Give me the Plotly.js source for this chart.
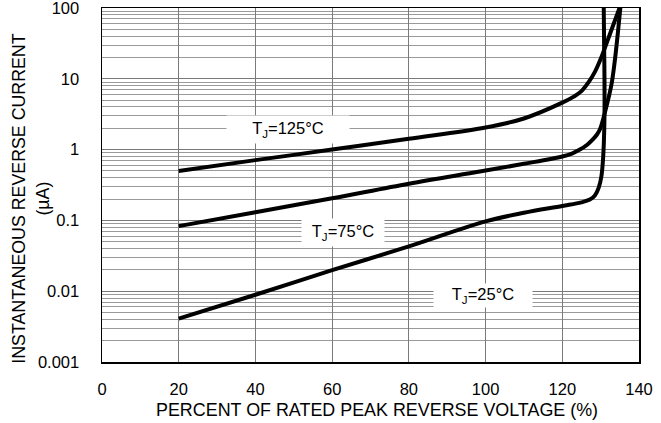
<!DOCTYPE html>
<html>
<head>
<meta charset="utf-8">
<script src="https://cdn.plot.ly/plotly-3.0.1.min.js"></script>
<style>html,body{margin:0;padding:0;background:#fff}#chart{width:661px;height:423px}</style>
</head>
<body>
<div id="chart"></div>
<script>
// Percent of rated peak reverse voltage (%) and instantaneous reverse current (uA)
const x125 = [20, 40, 60, 80, 100, 110, 120, 123, 125, 127, 128.5, 130, 132.5, 135.2];
const y125 = [0.5, 0.71, 1.0, 1.42, 2.05, 2.75, 4.6, 5.6, 6.7, 9.2, 12.5, 19, 44, 110];

const x75 = [20, 40, 60, 80, 98.5, 110, 120, 122.5, 124.6, 126.5, 127.9, 129, 129.8, 130.5, 131.1, 132.9, 135.2];
const y75 = [0.083, 0.13, 0.205, 0.33, 0.49, 0.63, 0.80, 0.88, 1.0, 1.17, 1.38, 1.62, 1.92, 2.5, 3.33, 8.8, 110];

const x25 = [20, 40, 60, 80, 100, 110, 120, 125, 127.2, 128.5, 129.5, 130.2, 130.6, 130.85, 131.0, 131.0, 130.9, 130.8];
const y25 = [0.0041, 0.0089, 0.0198, 0.043, 0.097, 0.128, 0.16, 0.18, 0.197, 0.225, 0.29, 0.42, 0.7, 1.3, 3, 10, 30, 110];

const seriesLabels = ['T<sub>J</sub>=125°C', 'T<sub>J</sub>=75°C', 'T<sub>J</sub>=25°C'];
const labelX = [48.5, 62.8, 99.3];
const labelY = [1.9, 0.0673, 0.00867];

const xTicks = [0, 20, 40, 60, 80, 100, 120, 140];
const yTicks = [0.001, 0.01, 0.1, 1, 10, 100];
const yTickText = ['0.001', '0.01', '0.1', '1', '10', '100'];

const xTitle = 'PERCENT OF RATED PEAK REVERSE VOLTAGE (%)';
const yTitle = 'INSTANTANEOUS REVERSE CURRENT<br>(µA)';

const font = 'Liberation Sans, Arial, sans-serif';
const line = {color: '#000', width: 4, shape: 'spline', smoothing: 1};

const traces = [
  {x: x125, y: y125, mode: 'lines', line: line, hoverinfo: 'skip'},
  {x: x75, y: y75, mode: 'lines', line: line, hoverinfo: 'skip'},
  {x: x25, y: y25, mode: 'lines', line: line, hoverinfo: 'skip'}
];

const boxW = [120, 80, 96];
const boxH = [25, 25, 21];
const annotations = seriesLabels.map((t, i) => ({
  x: labelX[i], y: Math.log10(labelY[i]), xref: 'x', yref: 'y',
  text: t, showarrow: false, bgcolor: '#fff', borderpad: 1,
  width: boxW[i], height: boxH[i],
  font: {family: font, size: 16.5, color: '#000'}
}));
annotations.push({
  text: yTitle, xref: 'paper', yref: 'paper', x: -0.133, y: 0.46,
  xanchor: 'center', yanchor: 'middle', textangle: -90, showarrow: false,
  font: {family: font, size: 17.8, color: '#000'}
});
annotations.push({
  text: xTitle, xref: 'paper', yref: 'paper', x: 0.513, y: -0.1356,
  xanchor: 'center', yanchor: 'middle', showarrow: false,
  font: {family: font, size: 17.9, color: '#000'}
});

const layout = {
  width: 661, height: 423,
  margin: {l: 102, r: 22, t: 8, b: 61},
  paper_bgcolor: '#fff', plot_bgcolor: '#fff',
  showlegend: false,
  font: {family: font, color: '#000'},
  xaxis: {
    range: [0, 140], tickmode: 'array', tickvals: xTicks,
    showgrid: true, gridcolor: '#7a7a7a', gridwidth: 1,
    zeroline: false, showline: true, linecolor: '#000', linewidth: 1.5, mirror: true,
    ticks: '', ticklabelstandoff: 12, ticklabeloverflow: 'allow',
    tickfont: {family: font, size: 16.5, color: '#000'}
  },
  yaxis: {
    type: 'log', range: [-3, 2], tickmode: 'array', tickvals: yTicks, ticktext: yTickText,
    showgrid: true, gridcolor: '#7a7a7a', gridwidth: 1,
    minor: {dtick: 'D1', showgrid: true, gridcolor: '#9a9a9a', gridwidth: 1, ticks: ''},
    zeroline: false, showline: true, linecolor: '#000', linewidth: 1.5, mirror: true,
    ticks: '', ticklabelstandoff: 18, ticklabeloverflow: 'allow',
    tickfont: {family: font, size: 16.5, color: '#000'}
  },
  annotations: annotations
};

Plotly.newPlot('chart', traces, layout, {staticPlot: true, displayModeBar: false});
</script>
</body>
</html>
